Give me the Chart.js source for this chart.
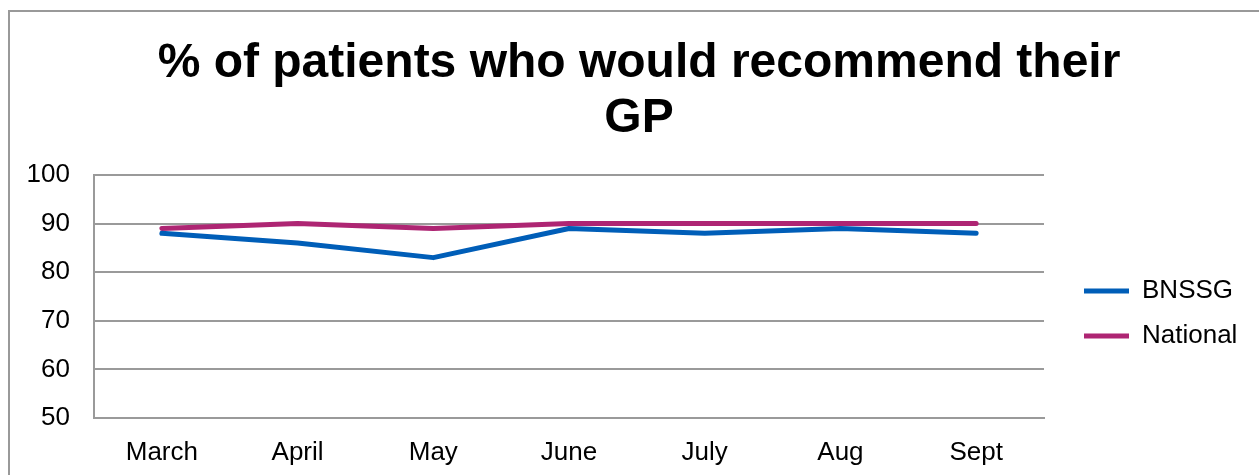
<!DOCTYPE html>
<html>
<head>
<meta charset="utf-8">
<title>% of patients who would recommend their GP</title>
<script src="https://cdn.jsdelivr.net/npm/chart.js@4/dist/chart.umd.min.js"></script>
<style>
    html, body { margin: 0; padding: 0; background: #fff; overflow: hidden; }
    #frame {
        position: absolute; left: 8px; top: 10px; width: 1300px; height: 500px;
        border-left: 2px solid #999; border-top: 2px solid #999;
    }
    #wrap { position: absolute; left: 0; top: 0; width: 1259px; height: 475px; }
</style>
</head>
<body>
<div id="frame"></div>
<div id="wrap"><canvas id="gpChart" width="1259" height="475"></canvas></div>
<script>
    "use strict";

    // chart data
    const months = ['March', 'April', 'May', 'June', 'July', 'Aug', 'Sept'];
    const bnssgValues = [88, 86, 83, 89, 88, 89, 88];
    const nationalValues = [89, 90, 89, 90, 90, 90, 90];
    const yMin = 50;
    const yMax = 100;
    const yStep = 10;

    const FONT = "'Liberation Sans', Arial, sans-serif";
    const BLUE = '#005EB8';
    const PINK = '#AE2573';
    const GRID = '#9a9a9a';

    /**
     * Nudge the title and legend to where the spreadsheet put them
     * (Chart.js centres them a little differently).
     */
    const boxNudge = {
        id: 'boxNudge',
        afterLayout: function (chart) {
            const title = chart.titleBlock;
            title.left += 15.8;
            title.right += 15.8;

            const legend = chart.legend;
            legend.left += 21;
            legend.right += 21;
            legend.top += 17;
            legend.bottom += 17;
        },
    };

    const ctx = document.getElementById('gpChart').getContext('2d');
    new Chart(ctx, {
        type: 'line',
        data: {
            labels: months,
            datasets: [{
                label: 'BNSSG',
                data: bnssgValues,
                borderColor: BLUE,
                backgroundColor: BLUE,
                borderWidth: 5,
                borderCapStyle: 'round',
                borderJoinStyle: 'round',
                pointRadius: 0,
                pointHoverRadius: 0,
                tension: 0,
            }, {
                label: 'National',
                data: nationalValues,
                borderColor: PINK,
                backgroundColor: PINK,
                borderWidth: 5,
                borderCapStyle: 'round',
                borderJoinStyle: 'round',
                pointRadius: 0,
                pointHoverRadius: 0,
                tension: 0,
            }],
        },
        plugins: [boxNudge],
        options: {
            responsive: false,
            animation: false,
            devicePixelRatio: 1,
            layout: { padding: { left: 20, right: 32.6, top: 0, bottom: 0 } },
            plugins: {
                tooltip: { enabled: false },
                title: {
                    display: true,
                    text: ['% of patients who would recommend their', 'GP'],
                    color: '#000',
                    font: { family: FONT, size: 48, weight: 'bold', lineHeight: 1.146 },
                    padding: { top: 36, bottom: 29 },
                },
                legend: {
                    position: 'right',
                    fullSize: false,
                    labels: {
                        color: '#000',
                        font: { family: FONT, size: 26 },
                        usePointStyle: true,
                        pointStyle: 'line',
                        pointStyleWidth: 45,
                        padding: 19,
                    },
                },
            },
            scales: {
                x: {
                    offset: true,
                    grid: { display: false, drawTicks: false },
                    border: { display: true, color: GRID, width: 2 },
                    ticks: { color: '#000', padding: 19, font: { family: FONT, size: 26 } },
                    afterFit: function (scale) { scale.height = 57; },
                },
                y: {
                    min: yMin,
                    max: yMax,
                    grid: { color: GRID, lineWidth: 2, drawTicks: false },
                    border: { display: true, color: GRID, width: 2 },
                    ticks: { stepSize: yStep, color: '#000', padding: 24, font: { family: FONT, size: 26 } },
                    afterFit: function (scale) { scale.width = 74; },
                },
            },
        },
    });
</script>
</body>
</html>
